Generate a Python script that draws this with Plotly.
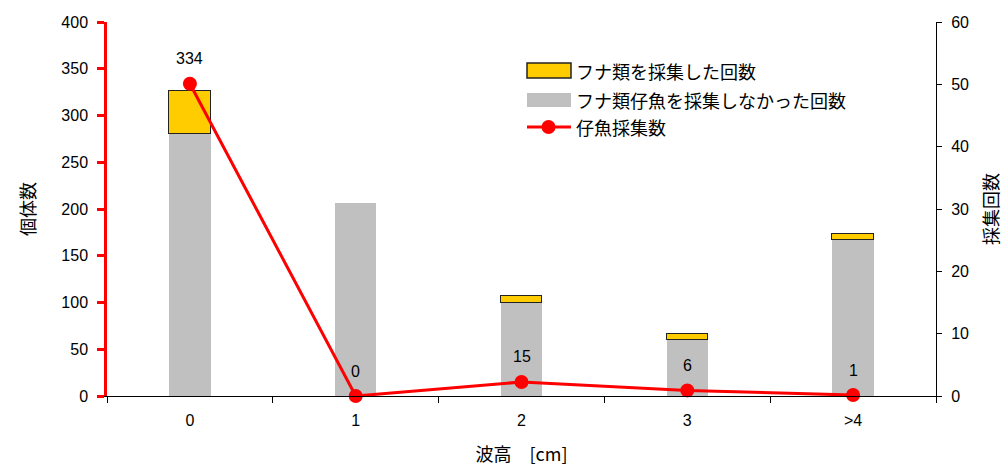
import plotly.graph_objects as go

categories = ["0", "1", "2", "3", ">4"]
not_collected = [42, 31, 15, 9, 25]      # フナ類仔魚を採集しなかった回数
collected = [7, 0, 1, 1, 1]              # フナ類を採集した回数
larvae = [334, 0, 15, 6, 1]              # 仔魚採集数

name_yellow = "フナ類を採集した回数"
name_gray = "フナ類仔魚を採集しなかった回数"
name_line = "仔魚採集数"

FONT = "Liberation Sans, Arial, Noto Sans CJK JP, sans-serif"
JFONT = "Noto Sans CJK JP, Liberation Sans, sans-serif"

L, R, T, B = 107, 69, 22, 72
W, H = 1005, 468
PW, PH = W - L - R, H - T - B


def px(x):
    return (x - L) / PW


def py(y):
    return (H - B - y) / PH


fig = go.Figure()
fig.add_trace(go.Bar(x=categories, y=not_collected, name=name_gray,
                     marker=dict(color="#C0C0C0", line=dict(width=0)),
                     width=0.25, yaxis="y", showlegend=False))
fig.add_trace(go.Bar(x=categories, y=collected, name=name_yellow,
                     marker=dict(color="#FFCC00",
                                 line=dict(color="#222222",
                                           width=[1.5 if v > 0 else 0 for v in collected])),
                     width=0.25, yaxis="y", showlegend=False))
fig.add_trace(go.Scatter(x=categories, y=larvae, name=name_line, mode="lines+markers",
                         line=dict(color="#FF0000", width=3),
                         marker=dict(color="#FF0000", size=14),
                         yaxis="y2", cliponaxis=False, showlegend=False))

annotations = []
for c, v in zip(categories, larvae):
    annotations.append(dict(x=c, y=v, xref="x", yref="y2", text=str(v), showarrow=False,
                            yshift=25, font=dict(family=FONT, size=16, color="black")))

# custom legend
shapes = [
    dict(type="rect", xref="paper", yref="paper", x0=px(527), x1=px(571), y0=py(78), y1=py(63),
         fillcolor="#FFCC00", line=dict(color="#222222", width=1.5)),
    dict(type="rect", xref="paper", yref="paper", x0=px(527), x1=px(571), y0=py(107), y1=py(93),
         fillcolor="#C0C0C0", line=dict(width=0)),
    dict(type="line", xref="paper", yref="paper", x0=px(527), x1=px(571), y0=py(127), y1=py(127),
         line=dict(color="#FF0000", width=3)),
    dict(type="circle", xref="paper", yref="paper", x0=px(541.5), x1=px(555.5), y0=py(134), y1=py(120),
         fillcolor="#FF0000", line=dict(color="#FF0000", width=0)),
]
for txt, yy in [(name_yellow, 71), (name_gray, 100), (name_line, 127)]:
    annotations.append(dict(x=px(574), y=py(yy), xref="paper", yref="paper", text=txt,
                            showarrow=False, xanchor="left", yanchor="middle",
                            font=dict(family=JFONT, size=18, color="black")))

fig.update_layout(
    width=W, height=H, autosize=False,
    margin=dict(l=L, r=R, t=T, b=B, pad=0),
    paper_bgcolor="white", plot_bgcolor="white",
    barmode="stack", bargap=0,
    font=dict(family=FONT, size=16, color="black"),
    xaxis=dict(type="category", tickson="boundaries", ticks="outside", ticklen=6,
               tickcolor="black", tickwidth=1, showline=True, linecolor="black", linewidth=1,
               showgrid=False, zeroline=False, tickfont=dict(family=FONT, size=16),
               ticklabelstandoff=10, automargin=False,
               title=dict(text="波高\u3000[cm]", font=dict(family=JFONT, size=18), standoff=20)),
    yaxis=dict(range=[0, 60], side="right", dtick=10, ticks="outside", ticklen=5,
               tickcolor="black", showline=True, linecolor="black", linewidth=1,
               showgrid=False, zeroline=False, tickfont=dict(family=FONT, size=16),
               ticklabelstandoff=6, automargin=False,
               title=dict(text="採集回数", font=dict(family=JFONT, size=18), standoff=17)),
    yaxis2=dict(range=[0, 400], overlaying="y", side="left", dtick=50, ticks="outside",
                ticklen=7, tickwidth=2.5, tickcolor="#FF0000", showline=True,
                linecolor="#FF0000", linewidth=2.5, showgrid=False, zeroline=False,
                tickfont=dict(family=FONT, size=16, color="black"), ticklabelstandoff=6,
                automargin=False,
                title=dict(text="個体数", font=dict(family=JFONT, size=18), standoff=22)),
    shapes=shapes,
    annotations=annotations,
)

fig.write_html("out.html")
